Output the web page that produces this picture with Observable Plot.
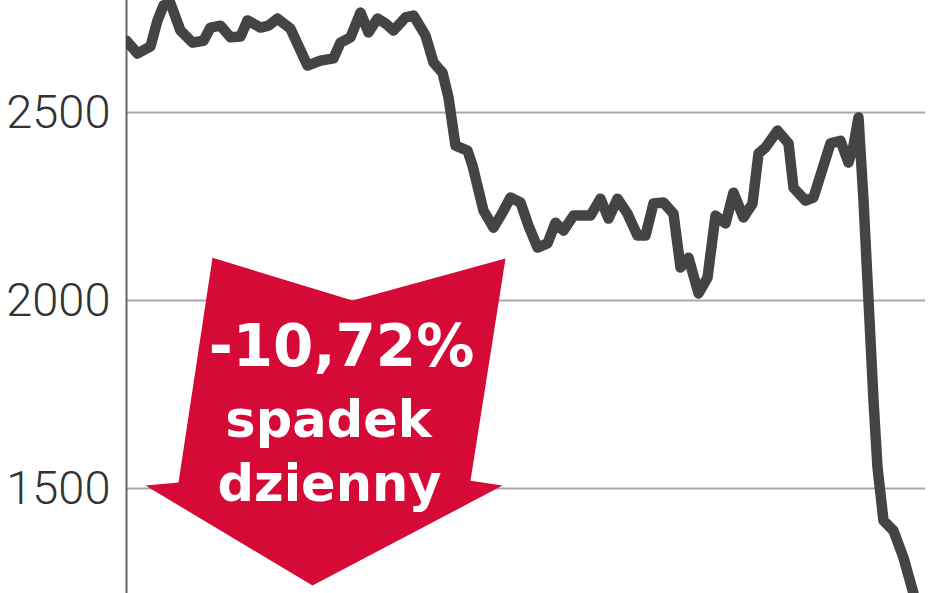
<!DOCTYPE html>
<html><head><meta charset="utf-8">
<script src="https://cdn.jsdelivr.net/npm/d3@7"></script>
<script src="https://cdn.jsdelivr.net/npm/@observablehq/plot@0.6"></script>
<style>html,body{margin:0;padding:0;background:#fff;overflow:hidden}</style>
</head><body><div id="chart"></div>
<script>
// session position (arbitrary time units) and index value
const sessions = [0,11,24,31,37,44,54,66,77,84,94,104,114,121,134,142,151,164,181,194,207,214,224,234,242,251,259,267,279,287,299,307,316,322,329,341,346,357,367,376,384,394,402,411,421,429,437,447,464,474,482,491,501,511,519,527,537,547,554,562,572,581,589,599,607,617,626,632,639,651,662,667,679,687,704,714,722,727,732,737,742,747,751,757,767,777,787];
const values = [2691,2657,2676,2745,2785,2790,2718,2686,2691,2726,2731,2700,2702,2745,2726,2731,2750,2723,2625,2638,2644,2686,2700,2766,2713,2750,2737,2718,2753,2758,2705,2633,2606,2540,2412,2399,2359,2239,2194,2234,2274,2261,2199,2141,2152,2207,2186,2226,2226,2271,2218,2271,2231,2173,2173,2258,2261,2231,2088,2114,2019,2061,2226,2205,2287,2221,2258,2391,2407,2452,2418,2300,2266,2274,2418,2425,2367,2412,2487,2266,2000,1734,1556,1415,1388,1316,1221];
const yTicks = [1500, 2000, 2500];
const xDomain = [0, 799];
const yDomain = [1221, 2798];

// annotation: red arrow outline (in data units) and its labels
const arrowT = [86, 226, 379, 344, 376, 186, 19, 52];
const arrowV = [2114, 2000, 2112, 1521, 1508, 1242, 1508, 1516];
const labelText = ["-10,72%", "spadek", "dzienny"];
const labelT = [215, 202, 203];
const labelV = [1827, 1636, 1468];

const series = sessions.map((t, i) => ({t, v: values[i]}));
const arrow = arrowT.map((t, i) => ({t, v: arrowV[i]}));
const labels = labelText.map((s, i) => ({s, t: labelT[i], v: labelV[i], big: i === 0}));

const chart = Plot.plot({
  width: 948, height: 593,
  marginLeft: 126, marginRight: 23, marginTop: 0, marginBottom: 0,
  x: {domain: xDomain, axis: null},
  y: {domain: yDomain, axis: null},
  marks: [
    Plot.ruleY(yTicks, {x1: xDomain[0], x2: xDomain[1], stroke: "#a9a9a9", strokeWidth: 2}),
    Plot.ruleX([xDomain[0]], {stroke: "#666", strokeWidth: 2}),
    Plot.axisY(yTicks, {tickSize: 0, tickPadding: 16, tickFormat: d => String(d), fontSize: 47, fontWeight: 300, fontFamily: "Roboto", fill: "#333", label: null}),
    Plot.line(arrow, {x: "t", y: "v", fill: "#d50a37", stroke: "none"}),
    Plot.text(labels.filter(d => d.big), {x: "t", y: "v", text: "s", fill: "#fff", fontSize: 58, fontWeight: "bold", fontFamily: "DejaVu Sans", lineAnchor: "bottom", textAnchor: "middle"}),
    Plot.text(labels.filter(d => !d.big), {x: "t", y: "v", text: "s", fill: "#fff", fontSize: 51, fontWeight: "bold", fontFamily: "DejaVu Sans", lineAnchor: "bottom", textAnchor: "middle"}),
    Plot.line(series, {x: "t", y: "v", stroke: "#444", strokeWidth: 10.5, strokeLinejoin: "round", strokeLinecap: "round", clip: true})
  ]
});
document.getElementById("chart").appendChild(chart);
</script>
</body></html>
